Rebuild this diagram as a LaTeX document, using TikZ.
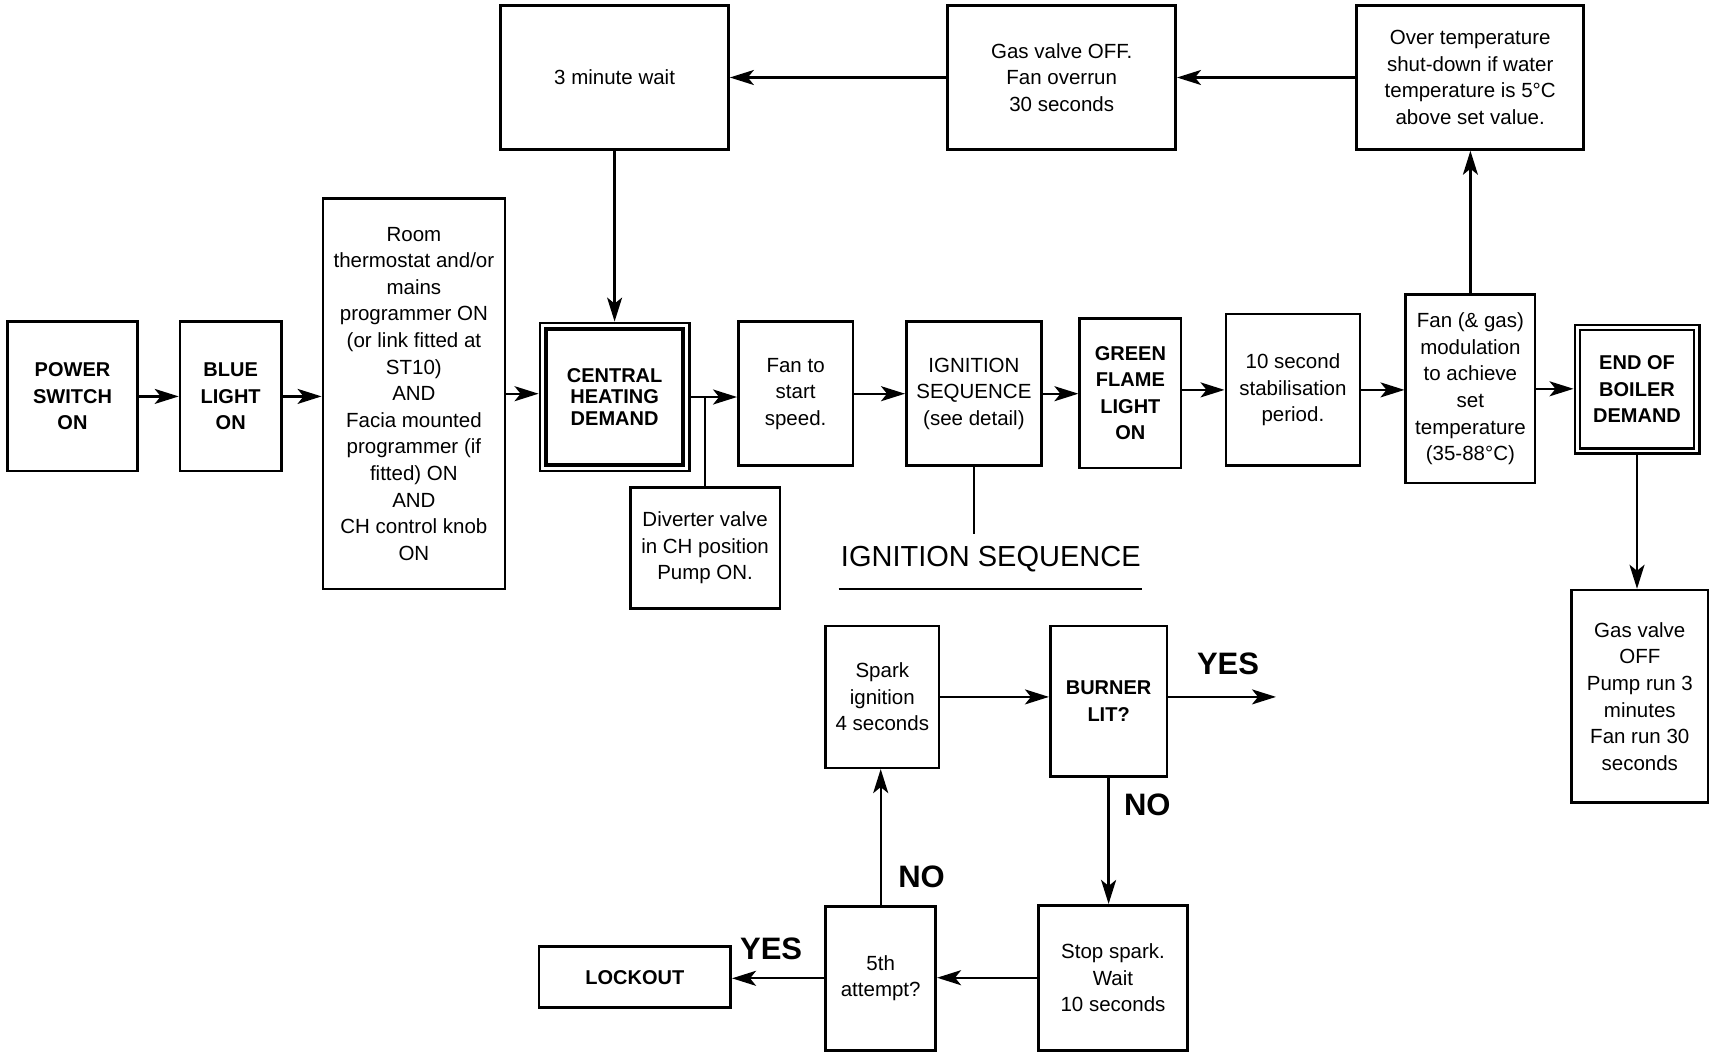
\documentclass[tikz,border=0pt]{standalone}
\usepackage{fontspec}
\setmainfont{Liberation Sans}
\usetikzlibrary{arrows.meta}
\begin{document}
\begin{tikzpicture}[x=1pt,y=-1pt,
  box/.style={draw, line width=2.6pt, align=center, inner sep=0pt,
    font=\fontsize{20.5pt}{26.6pt}\selectfont},
  bbox/.style={box, font=\fontsize{20pt}{26.6pt}\selectfont\bfseries},
  arr/.style={line width=2.3pt, -{Stealth[length=24pt,width=15pt,inset=6pt]}},
  ln/.style={line width=2.3pt},
  lbl/.style={font=\fontsize{31pt}{36pt}\selectfont\bfseries, inner sep=0pt}]
\useasboundingbox (0,0) rectangle (1710,1053);
% main row
\node[bbox, minimum width=129.8, minimum height=149.4] (power) at (72.5,396.4) {POWER\\SWITCH\\ON};
\node[bbox, minimum width=101.4, minimum height=149.4] (blue) at (230.7,396.4) {BLUE\\LIGHT\\ON};
\node[box, minimum width=182.1, minimum height=390.4] (room) at (413.9,393.7) {Room\\thermostat and/or\\mains\\programmer ON\\(or link fitted at\\ST10)\\AND\\Facia mounted\\programmer (if\\fitted) ON\\AND\\CH control knob\\ON};
\node[box, minimum width=149.5, minimum height=148.3, font=\fontsize{20pt}{21.3pt}\selectfont\bfseries] (chd) at (614.6,397) {CENTRAL\\HEATING\\DEMAND};
\draw[line width=4pt] ([shift={(7.5,7.5)}]chd.north west) rectangle ([shift={(-7.5,-7.5)}]chd.south east);
\node[box, minimum width=114.5, minimum height=144] (fan) at (795.6,393.7) {Fan to\\start\\speed.};
\node[box, minimum width=135.2, minimum height=144] (ign) at (973.9,393.7) {IGNITION\\SEQUENCE\\(see detail)};
\node[bbox, minimum width=101.4, minimum height=149.4] (green) at (1130.4,393.2) {GREEN\\FLAME\\LIGHT\\ON};
\node[box, minimum width=134.2, minimum height=151.6] (ten) at (1292.9,389.9) {10 second\\stabilisation\\period.};
\node[box, minimum width=129.3, minimum height=188.6] (mod) at (1470.4,388.8) {Fan (\& gas)\\modulation\\to achieve\\set\\temperature\\(35-88°C)};
\node[bbox, minimum width=124.4, minimum height=128.7] (end) at (1637,389.4) {END OF\\BOILER\\DEMAND};
\draw[line width=2.4pt] ([shift={(6.5,6.5)}]end.north west) rectangle ([shift={(-6.5,-6.5)}]end.south east);
\node[box, minimum width=136.3, minimum height=212.7] (gasoff) at (1639.8,696.4) {Gas valve\\OFF\\Pump run 3\\minutes\\Fan run 30\\seconds};
% top row
\node[box, minimum width=227.9, minimum height=143.9] (wait) at (614.6,77.5) {3 minute wait};
\node[box, minimum width=228, minimum height=143.9] (gasv) at (1061.7,77.5) {Gas valve OFF.\\Fan overrun\\30 seconds};
\node[box, minimum width=226.9, minimum height=143.9] (over) at (1470.2,77.5) {Over temperature\\shut-down if water\\temperature is 5°C\\above set value.};
% diverter
\node[box, minimum width=149.4, minimum height=121.1] (div) at (705.1,548) {Diverter valve\\in CH position\\Pump ON.};
% ignition sequence
\node[font=\fontsize{29pt}{34pt}\selectfont, inner sep=0pt] (title) at (990.8,559.5) {IGNITION SEQUENCE};
\coordinate (ul1) at (838.7,588.9);
\coordinate (ul2) at (1141.9,588.9);
\draw[line width=2pt] (ul1) -- (ul2);
\coordinate (ignend) at (973.9,534.4);
\node[box, minimum width=113.4, minimum height=141.8] (spark) at (882.3,696.9) {Spark\\ignition\\4 seconds};
\node[bbox, minimum width=116.7, minimum height=150.5] (burner) at (1108.6,701.3) {BURNER\\LIT?};
\node[box, minimum width=149.4, minimum height=145] (stop) at (1113,977.7) {Stop spark.\\Wait\\10 seconds};
\node[box, minimum width=110.1, minimum height=143.9] (fifth) at (880.7,978.3) {5th\\attempt?};
\node[bbox, minimum width=191.9, minimum height=61.1] (lock) at (634.8,977.2) {LOCKOUT};
\coordinate (yesend) at (1276,696.9);
\node[lbl] (yes1) at (1228,664.2) {YES};
\node[lbl] (no1) at (1147.3,804.9) {NO};
\node[lbl] (no2) at (921.6,876.8) {NO};
\node[lbl] (yes2) at (771.1,948.8) {YES};
% connectors main row
\draw[arr] (power.east) -- (power.east -| blue.west);
\draw[arr] (blue.east) -- (blue.east -| room.west);
\draw[arr] (room.east) -- (room.east -| chd.west);
\draw[arr] (chd.east) -- (chd.east -| fan.west);
\draw[ln] (div.north) -- (div.north |- chd.east);
\draw[arr] (fan.east) -- (fan.east -| ign.west);
\draw[arr] (ign.east) -- (ign.east -| green.west);
\draw[arr] (ten.west -| green.east) -- (ten.west);
\draw[arr] (ten.east) -- (ten.east -| mod.west);
\draw[arr] (mod.east) -- (mod.east -| end.west);
\draw[arr] (mod.north) -- (mod.north |- over.south);
\draw[arr] (over.west) -- (gasv.east);
\draw[arr] (gasv.west) -- (wait.east);
\draw[arr] (wait.south) -- (wait.south |- chd.north);
\draw[ln] (ign.south) -- (ignend);
\draw[arr] (end.south) -- (end.south |- gasoff.north);
% connectors ignition
\draw[arr] (spark.east) -- (spark.east -| burner.west);
\draw[arr] (burner.east |- spark.east) -- (yesend);
\draw[arr] (burner.south) -- (burner.south |- stop.north);
\draw[arr] (stop.west) -- (stop.west -| fifth.east);
\draw[arr] (fifth.west) -- (fifth.west -| lock.east);
\draw[arr] (fifth.north) -- (fifth.north |- spark.south);
\end{tikzpicture}
\end{document}
